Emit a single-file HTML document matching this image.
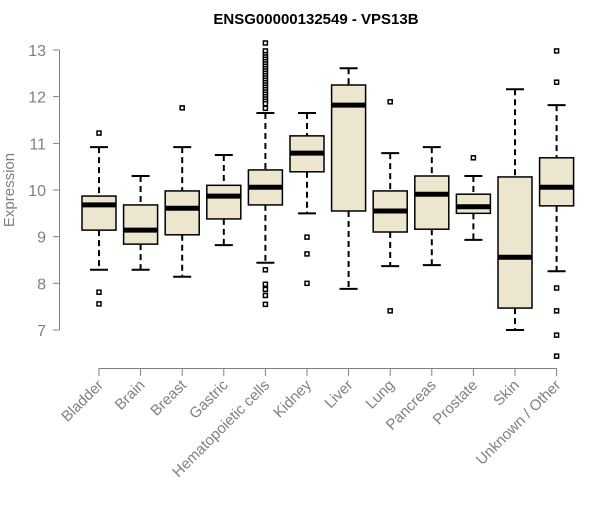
<!DOCTYPE html>
<html><head><meta charset="utf-8"><style>
body{margin:0;background:#fff;font-family:"Liberation Sans",sans-serif}
</style></head><body>
<svg id="chart" width="600" height="500" xmlns="http://www.w3.org/2000/svg">
<text x="316" y="24" text-anchor="middle" font-size="15" font-weight="bold" font-family="Liberation Sans, sans-serif">ENSG00000132549 - VPS13B</text>
<text transform="translate(14,190) rotate(-90)" text-anchor="middle" font-size="15" fill="#808080" font-family="Liberation Sans, sans-serif">Expression</text>
<g id="marks"></g>
</svg>
<script>
const categories=["Bladder","Brain","Breast","Gastric","Hematopoietic cells","Kidney","Liver","Lung","Pancreas","Prostate","Skin","Unknown / Other"];
const whiskerLow=[8.29,8.29,8.14,8.82,8.44,9.5,7.88,8.37,8.39,8.93,7.0,8.26];
const q1=[9.14,8.84,9.04,9.38,9.68,10.39,9.55,9.1,9.16,9.5,7.47,9.66];
const medians=[9.68,9.14,9.61,9.87,10.06,10.79,11.82,9.55,9.91,9.64,8.56,10.06];
const q3=[9.87,9.68,9.98,10.1,10.43,11.16,12.25,9.98,10.3,9.91,10.28,10.69];
const whiskerHigh=[10.92,10.3,10.92,10.75,11.65,11.65,12.61,10.79,10.92,10.3,12.16,11.82];
const outliers=[[11.22,7.81,7.56],[],[11.76],[],
[13.15,12.98,12.9,12.85,12.8,12.75,12.7,12.65,12.6,12.55,12.5,12.45,12.4,12.35,12.3,12.25,12.2,12.15,12.1,12.05,12.0,11.95,11.9,11.85,11.75,8.29,7.98,7.87,7.74,7.55],
[8.99,8.63,8.0],[],[11.89,7.41],[],[10.69],[],[12.98,12.31,7.9,7.41,6.89,6.44]];
const yTicks=[7,8,9,10,11,12,13];
const NS="http://www.w3.org/2000/svg";
const g=document.getElementById('marks');
const y=v=>330-(v-7)*46.667;
const x=i=>99+i*41.6;
function mk(t,a){const e=document.createElementNS(NS,t);for(const k in a)e.setAttribute(k,a[k]);g.appendChild(e);return e;}
let ax=mk('path',{d:`M59.5,${y(13)}V${y(7)}`,stroke:'#808080',fill:'none'});


yTicks.forEach(t=>{
 let l=mk('line',{x1:53,x2:59.5,y1:y(t),y2:y(t),stroke:'#808080'});
 
 
 let tx=mk('text',{x:46,y:y(t)+6,'text-anchor':'end','font-size':16,fill:'#808080'});
 tx.textContent=t;
 
 
});
let xa=mk('path',{d:`M${x(0)},368.5H${x(11)}`,stroke:'#808080',fill:'none'});


categories.forEach((c,i)=>{
 const cx=x(i);
 let tk=mk('line',{x1:cx,x2:cx,y1:368,y2:376,stroke:'#808080'});
 
 
 let lb=mk('text',{transform:`translate(${cx+5},386) rotate(-45)`,'text-anchor':'end','font-size':15,fill:'#808080'});
 lb.textContent=c;
 
 
 let wh=mk('path',{d:`M${cx},${y(whiskerHigh[i])}V${y(q3[i])}M${cx},${y(q1[i])}V${y(whiskerLow[i])}`,stroke:'#000','stroke-width':2,'stroke-dasharray':'6,4',fill:'none'});
 
 
 let cap=mk('path',{d:`M${cx-9},${y(whiskerHigh[i])}H${cx+9}M${cx-9},${y(whiskerLow[i])}H${cx+9}`,stroke:'#000','stroke-width':2});
 
 
 let bx=mk('rect',{x:cx-17,y:y(q3[i]),width:34,height:y(q1[i])-y(q3[i]),fill:'#EDE6CE',stroke:'#000','stroke-width':1.5});
 
 
 let md=mk('line',{x1:cx-17,x2:cx+17,y1:y(medians[i]),y2:y(medians[i]),stroke:'#000','stroke-width':5});
 
 
 outliers[i].forEach(v=>{
  let o=mk('rect',{x:cx-2,y:y(v)-2,width:4,height:4,fill:'#fff',stroke:'#000','stroke-width':1.5});
  
  
 });
});
</script>
</body></html>
